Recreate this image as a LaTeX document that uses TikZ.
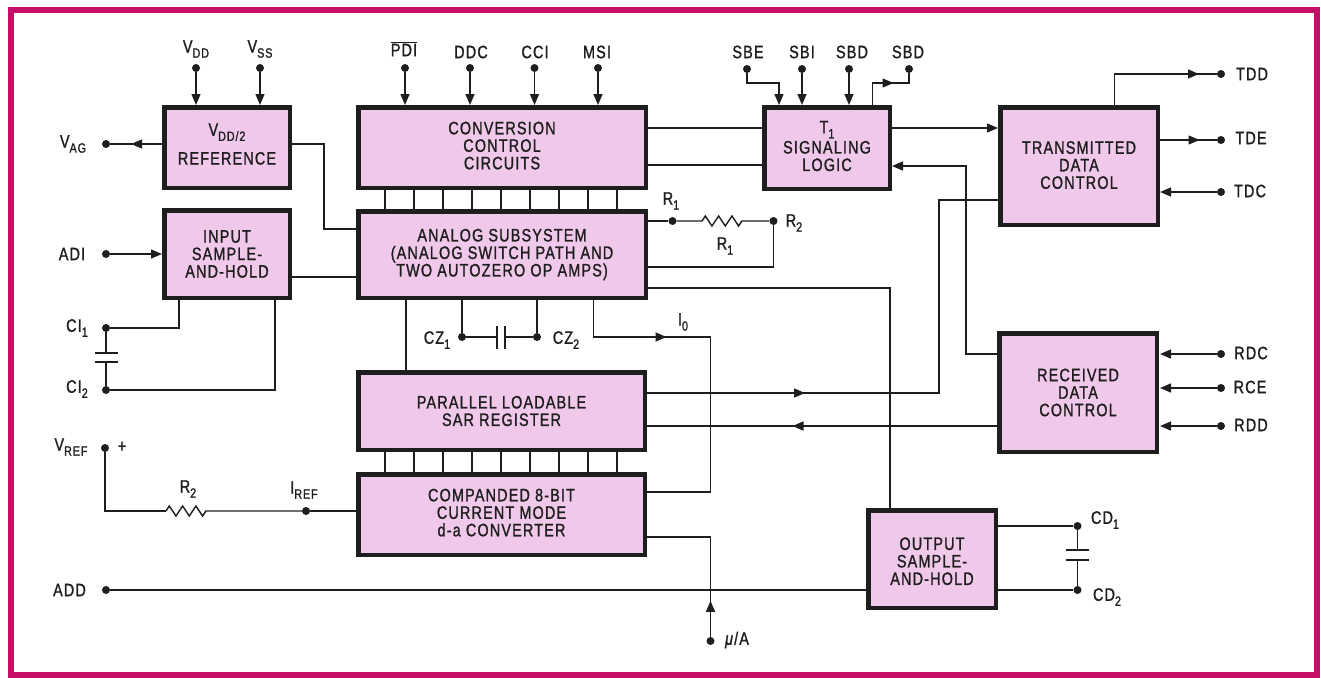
\documentclass[tikz,border=0pt]{standalone}
\usepackage{fontspec}
\setmainfont[FakeStretch=0.8,FakeBold=1.2,LetterSpace=6.5]{Liberation Sans}
\usetikzlibrary{arrows.meta,decorations.markings,decorations.pathmorphing}
\definecolor{blockpink}{HTML}{F0C9EA}
\definecolor{framered}{HTML}{C80F68}
\definecolor{inkblack}{HTML}{1E1E1E}
\newcommand{\lowtext}[1]{\raisebox{-.28em}{\fontsize{13.5}{14}\selectfont #1}}
\tikzset{
  blockbox/.style={draw=inkblack,line width=4.5pt,fill=blockpink,text=inkblack,align=center,inner sep=0pt,
    font=\fontsize{18}{17.5}\selectfont},
  nudgeup/.style={text depth=#1},
  wire/.style={draw=inkblack,line width=1.4pt},
  tipend/.style={-{Triangle[length=11pt,width=9pt]}},
  arrowat/.style={postaction={decorate},decoration={markings,mark=at position #1 with {\arrow{Triangle[length=11pt,width=9pt]}}}},
  pinpoint/.style={circle,fill=inkblack,inner sep=0pt,minimum size=8pt},
  pinlabel/.style={inner sep=0pt,text=inkblack,font=\fontsize{18}{18}\selectfont},
  plate/.style={fill=inkblack,inner sep=0pt,outer sep=0pt},
  resistorzig/.style={decoration={zigzag,amplitude=5pt,segment length=13.3pt}}
}
\begin{document}
\begin{tikzpicture}[x=1pt,y=-1pt]
\useasboundingbox (0,0) rectangle (1321,677);
\draw[framered,line width=6pt] (11,10) rectangle (1317,675);
\node[blockbox,nudgeup=7pt,minimum width=125.5pt,minimum height=80.5pt] (ref) at (227,147.5) {V\lowtext{DD/2}\\[10pt]REFERENCE};
\node[blockbox,minimum width=125.5pt,minimum height=87.5pt] (input) at (227,254) {INPUT\\SAMPLE-\\AND-HOLD};
\node[blockbox,nudgeup=4pt,minimum width=287.5pt,minimum height=80.5pt] (conv) at (502,147.5) {CONVERSION\\CONTROL\\CIRCUITS};
\node[blockbox,minimum width=287.5pt,minimum height=86.5pt] (analog) at (502,254.5) {ANALOG SUBSYSTEM\\(ANALOG SWITCH PATH AND\\TWO AUTOZERO OP AMPS)};
\node[blockbox,minimum width=286.5pt,minimum height=77.5pt] (sar) at (501.5,411) {PARALLEL LOADABLE\\SAR REGISTER};
\node[blockbox,nudgeup=4pt,minimum width=286.5pt,minimum height=80.5pt] (dac) at (501.5,514.5) {COMPANDED 8-BIT\\CURRENT MODE\\d-a CONVERTER};
\node[blockbox,nudgeup=4pt,minimum width=125.5pt,minimum height=81.5pt] (signal) at (827,148) {T\lowtext{1}\\[1.5pt]SIGNALING\\LOGIC};
\node[blockbox,nudgeup=2pt,minimum width=157.5pt,minimum height=117.5pt] (trans) at (1079,166) {TRANSMITTED\\DATA\\CONTROL};
\node[blockbox,minimum width=157.5pt,minimum height=118.5pt] (recv) at (1078,392.5) {RECEIVED\\DATA\\CONTROL};
\node[blockbox,minimum width=127.5pt,minimum height=97.5pt] (outsh) at (932,559) {\rule{0pt}{17pt}OUTPUT\\SAMPLE-\\AND-HOLD};
\node[pinpoint] (vdd) at (196,68) {};
\node[pinpoint] (vss) at (260,68) {};
\node[pinpoint] (pdi) at (405,68) {};
\node[pinpoint] (ddc) at (470,68) {};
\node[pinpoint] (cci) at (534.5,68) {};
\node[pinpoint] (msi) at (598,68) {};
\node[pinpoint] (sbe) at (747,69) {};
\node[pinpoint] (sbi) at (802,69) {};
\node[pinpoint] (sbd) at (849,69) {};
\node[pinpoint] (sbdb) at (909,69) {};
\node[pinpoint] (tdd) at (1221,74) {};
\node[pinpoint] (tde) at (1221,140) {};
\node[pinpoint] (tdc) at (1221,192) {};
\node[pinpoint] (rdc) at (1221,354) {};
\node[pinpoint] (rce) at (1221,388) {};
\node[pinpoint] (rdd) at (1221,426) {};
\node[pinpoint] (vag) at (106,144) {};
\node[pinpoint] (adi) at (106,254) {};
\node[pinpoint] (cia) at (106,328) {};
\node[pinpoint] (cib) at (106,390) {};
\node[pinpoint] (vrefp) at (105,448) {};
\node[pinpoint] (iref) at (306,511) {};
\node[pinpoint] (addp) at (106,590) {};
\node[pinpoint] (ra) at (672.5,221) {};
\node[pinpoint] (rb) at (773.5,221) {};
\node[pinpoint] (cza) at (462,337) {};
\node[pinpoint] (czb) at (537,337) {};
\node[pinpoint] (cda) at (1077.5,526) {};
\node[pinpoint] (cdb) at (1077.5,590) {};
\node[pinpoint] (mua) at (710.5,641) {};
\node[pinlabel] (vddt) at (196,49) {V\lowtext{DD}};
\node[pinlabel] (vsst) at (260,49) {V\lowtext{SS}};
\node[pinlabel] (pdit) at (404,49) {$\overline{\hbox{PDI}}$};
\node[pinlabel] (ddct) at (471,52) {DDC};
\node[pinlabel] (ccit) at (535,52) {CCI};
\node[pinlabel] (msit) at (597,52) {MSI};
\node[pinlabel] (sbet) at (748,52) {SBE};
\node[pinlabel] (sbit) at (802,52) {SBI};
\node[pinlabel] (sbdt) at (852,52) {SBD};
\node[pinlabel] (sbdbt) at (908,52) {SBD};
\node[pinlabel] (tddt) at (1252,74) {TDD};
\node[pinlabel] (tdet) at (1251,138) {TDE};
\node[pinlabel] (tdct) at (1250,191) {TDC};
\node[pinlabel] (rdct) at (1251,353) {RDC};
\node[pinlabel] (rcet) at (1250,387) {RCE};
\node[pinlabel] (rddt) at (1251,425) {RDD};
\node[pinlabel] (vagt) at (73,144) {V\lowtext{AG}};
\node[pinlabel] (adit) at (72,254) {ADI};
\node[pinlabel] (ciat) at (77,328) {CI\lowtext{1}};
\node[pinlabel] (cibt) at (77,389) {CI\lowtext{2}};
\node[pinlabel] (vreft) at (71,447) {V\lowtext{REF}};
\node[pinlabel] (plust) at (122,447) {+};
\node[pinlabel] (reft) at (304,490) {I\lowtext{REF}};
\node[pinlabel] (rct) at (188,489) {R\lowtext{2}};
\node[pinlabel] (addt) at (69.5,590) {ADD};
\node[pinlabel] (rat) at (671,201) {R\lowtext{1}};
\node[pinlabel] (rbt) at (725,246) {R\lowtext{1}};
\node[pinlabel] (rdt) at (794,223) {R\lowtext{2}};
\node[pinlabel] (czat) at (437,340) {CZ\lowtext{1}};
\node[pinlabel] (czbt) at (566,340) {CZ\lowtext{2}};
\node[pinlabel] (iot) at (683,322) {I\lowtext{0}};
\node[pinlabel] (cdat) at (1105,520) {CD\lowtext{1}};
\node[pinlabel] (cdbt) at (1107,597) {CD\lowtext{2}};
\node[pinlabel] (muat) at (737,640) {\textit{μ}/A};
\node[plate,minimum width=23pt,minimum height=2.4pt] (ciplatea) at (106,353) {};
\node[plate,minimum width=23pt,minimum height=2.4pt] (ciplateb) at (106,362) {};
\node[plate,minimum width=23pt,minimum height=2.4pt] (cdplatea) at (1077.5,550) {};
\node[plate,minimum width=23pt,minimum height=2.4pt] (cdplateb) at (1077.5,560) {};
\node[plate,minimum width=2.4pt,minimum height=23pt] (czplatea) at (497,337) {};
\node[plate,minimum width=2.4pt,minimum height=23pt] (czplateb) at (505,337) {};
\coordinate (raz) at (702,221);
\coordinate (rbz) at (742,221);
\coordinate (rcz) at (166,511);
\coordinate (rdz) at (208,511);
\foreach \x in {385,414,...,617} {
  \draw[wire] (conv.south -| \x,0) -- (analog.north -| \x,0);
  \draw[wire] (sar.south -| \x,0) -- (dac.north -| \x,0);
}
\foreach \p/\b in {vdd/ref,vss/ref,pdi/conv,ddc/conv,cci/conv,msi/conv,sbi/signal,sbd/signal}
  \draw[wire,tipend] (\p) -- (\p |- \b.north);
\foreach \p in {tdc,rdc,rce,rdd}
  \draw[wire,tipend] (\p) -- (\p -| trans.east);
\draw[wire,arrowat=31pt] (ref.west |- vag) -- (vag);
\draw[wire,tipend] (adi) -- (input.west |- adi);
\draw[wire] (ref.east |- vag) -| (324,229) -- (analog.west |- 0,229);
\draw[wire] (input.east |- 0,277) -- (analog.west |- 0,277);
\draw[wire] (input.south -| 179,0) |- (cia);
\draw[wire] (input.south -| 275,0) |- (cib);
\draw[wire] (cia) -- (ciplatea);
\draw[wire] (cib) -- (ciplateb);
\draw[wire] (vrefp) |- (rcz);
\draw[wire] (rcz) decorate[resistorzig] {-- (rdz)} -- (iref);
\draw[wire] (iref) -- (dac.west |- iref);
\draw[wire] (addp) -- (outsh.west |- addp);
\draw[wire] (analog.south -| 406,0) -- (sar.north -| 406,0);
\draw[wire] (analog.south -| cza) -- (cza);
\draw[wire] (analog.south -| czb) -- (czb);
\draw[wire] (cza) -- (czplatea);
\draw[wire] (czb) -- (czplateb);
\draw[wire,arrowat=110pt] (analog.south -| 593.5,0) |- (710.5,337) |- (dac.east |- 0,492);
\draw[wire] (dac.east |- 0,537) -| (mua);
\draw[wire,arrowat=36pt] (mua) -- (710.5,537);
\draw[wire] (conv.east |- 0,128) -- (signal.west |- 0,128);
\draw[wire] (conv.east |- 0,165) -- (signal.west |- 0,165);
\draw[wire] (analog.east |- ra) -- (ra);
\draw[wire] (ra) -- (raz) decorate[resistorzig] {-- (rbz)} -- (rb);
\draw[wire] (rb) |- (analog.east |- 0,267);
\draw[wire] (analog.east |- 0,288) -| (outsh.north -| 890,0);
\draw[wire] (sbe) |- (779,83) -- (signal.north -| 779,0) [tipend];
\draw[wire,arrowat=43pt] (signal.north -| 872.5,0) |- (909,83) -- (sbdb);
\draw[wire,arrowat=115.5pt] (trans.north -| 1114.5,0) |- (tdd);
\draw[wire,arrowat=39.5pt] (trans.east |- tde) -- (tde);
\draw[wire,tipend] (signal.east |- 0,128) -- (trans.west |- 0,128);
\draw[wire,tipend] (recv.west |- rdc) -| (966,166) -- (signal.east |- 0,166);
\draw[wire,arrowat=158pt] (sar.east |- 0,393) -| (939,200) -- (trans.west |- 0,200);
\draw[wire,arrowat=204.5pt] (recv.west |- rdd) -- (sar.east |- rdd);
\draw[wire] (outsh.east |- cda) -- (cda);
\draw[wire] (outsh.east |- cdb) -- (cdb);
\draw[wire] (cda) -- (cdplatea);
\draw[wire] (cdb) -- (cdplateb);
\end{tikzpicture}
\end{document}
